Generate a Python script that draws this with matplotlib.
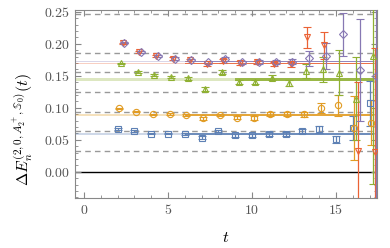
"""
Effective energy shifts per level with fit bands (t on x, Delta E on y).
"""

import numpy as np
import matplotlib

matplotlib.use("Agg")
import matplotlib.pyplot as plt  # noqa: E402
from matplotlib.ticker import MultipleLocator, FuncFormatter  # noqa: E402

plt.rcParams["mathtext.fontset"] = "cm"
plt.rcParams["font.family"] = "serif"

# ---- data ------------------------------------------------------------
t = np.arange(2, 18)

blue_val = [0.067, 0.0636, 0.0596, 0.0596, 0.0596, 0.0535, 0.0637, 0.0569,
            0.0569, 0.0585, 0.0596, 0.0637, 0.0663, 0.0506, 0.068, 0.107]
blue_err = [0.001, 0.001, 0.0012, 0.0012, 0.0015, 0.002, 0.002, 0.002,
            0.002, 0.003, 0.003, 0.003, 0.006, 0.006, 0.019, 0.035]

orange_val = [0.0992, 0.094, 0.0898, 0.0898, 0.0887, 0.0835, 0.0887, 0.0846,
              0.0846, 0.0898, 0.0898, 0.0898, 0.1003, 0.104, 0.069, 0.077]
orange_err = [0.001, 0.001, 0.001, 0.0015, 0.0015, 0.002, 0.002, 0.002,
              0.003, 0.003, 0.003, 0.004, 0.008, 0.016, 0.05, 0.035]

green_val = [0.1697, 0.1567, 0.151, 0.148, 0.146, 0.130, 0.156, 0.140,
             0.140, 0.147, 0.139, 0.158, 0.160, 0.155, 0.114, 0.181]
green_err = [0.001, 0.0015, 0.0015, 0.002, 0.002, 0.003, 0.003, 0.003,
             0.003, 0.004, 0.005, 0.011, 0.02, 0.035, 0.065, 0.2]

# t = 15 for this level falls outside the plotted window
red_val = [0.201, 0.1875, 0.181, 0.177, 0.1745, 0.168, 0.173, 0.170,
           0.171, 0.168, 0.168, 0.210, 0.198, np.nan, 0.032, 0.031]
red_err = [0.001, 0.0015, 0.0015, 0.002, 0.002, 0.002, 0.003, 0.003,
           0.003, 0.003, 0.004, 0.017, 0.021, np.nan, 0.108, 0.163]

purple_val = [0.202, 0.188, 0.181, 0.177, 0.175, 0.171, 0.177, 0.171,
              0.172, 0.172, 0.172, 0.1775, 0.181, 0.215, 0.159, 0.15]
purple_err = [0.001, 0.0015, 0.0015, 0.002, 0.002, 0.002, 0.003, 0.003,
              0.003, 0.003, 0.004, 0.012, 0.021, 0.034, 0.08, 0.2]

# fit results: central value, half width, start of fit window
fit_val = [0.0595, 0.089, 0.144, 0.1695, 0.1725]
fit_hw = [0.0012, 0.0012, 0.0025, 0.0012, 0.0012]
fit_tmin = [6, 6, 9, 6, 6]
fit_tmax = 17.2

# non-interacting levels (dashed)
levels = [0.246, 0.186, 0.1555, 0.1248, 0.0937, 0.0636, 0.0323]

COLORS = ["#5E81B5", "#E19C24", "#8FB032", "#EB6235", "#8778B3"]
MARKERS = ["s", "o", "^", "v", "D"]
SIZES = [4, 4.5, 4.5, 4.5, 3.6]
OFFSETS = [0.0, 0.1, 0.2, 0.3, 0.4]

series = [(blue_val, blue_err), (orange_val, orange_err),
          (green_val, green_err), (red_val, red_err),
          (purple_val, purple_err)]

XLIM = (-0.53, 17.44)

fig = plt.figure(figsize=(3.9, 2.48), dpi=100)
ax = fig.add_axes([0.1923, 0.2016, 0.9667 - 0.1923, 0.9597 - 0.2016])

for lv in levels:
    ax.axhline(lv, color="#999999", lw=1.0, ls=(0, (4, 3)), zorder=1)
ax.axhline(0.0, color="black", lw=1.0, zorder=1)

# fit bands: faint across the whole window, solid over the fit range
for c, v, hw, tmin in zip(COLORS, fit_val, fit_hw, fit_tmin):
    ax.fill_between(XLIM, v - hw, v + hw, color=c, alpha=0.3, lw=0, zorder=2)
    ax.fill_between([tmin, fit_tmax], v - hw, v + hw, color=c, alpha=0.85,
                    lw=0, zorder=3)

for (val, err), c, m, s, off in zip(series, COLORS, MARKERS, SIZES, OFFSETS):
    ax.errorbar(t + off, val, yerr=err, fmt=m, ms=s, mfc="none", mec=c,
                mew=0.8, ecolor=c, elinewidth=0.9, capsize=3, capthick=0.9,
                color=c, zorder=4)

ax.set_xlim(*XLIM)
ax.set_ylim(-0.041, 0.253)

ax.xaxis.set_major_locator(MultipleLocator(5))
ax.xaxis.set_minor_locator(MultipleLocator(1))
ax.yaxis.set_major_locator(MultipleLocator(0.05))
ax.yaxis.set_minor_locator(MultipleLocator(0.01))
ax.xaxis.set_major_formatter(FuncFormatter(lambda v, p: f"${v:.0f}$"))
ax.yaxis.set_major_formatter(FuncFormatter(lambda v, p: f"${v:.2f}$"))
ax.tick_params(which="both", direction="in", top=True, right=True,
               color="#888888", labelcolor="#555555", labelsize=10)
ax.tick_params(which="major", length=4)
ax.tick_params(which="minor", length=2)
for sp in ax.spines.values():
    sp.set_color("#888888")

ax.set_xlabel("$t$", fontsize=11.5, labelpad=9)
ax.set_ylabel(r"$\Delta E_n^{(2,0,A_2^+,\mathbb{S}_0)}(t)$", fontsize=11.5)
ax.yaxis.set_label_coords(-0.13, 0.365)

fig.savefig("out.png", dpi=100)
